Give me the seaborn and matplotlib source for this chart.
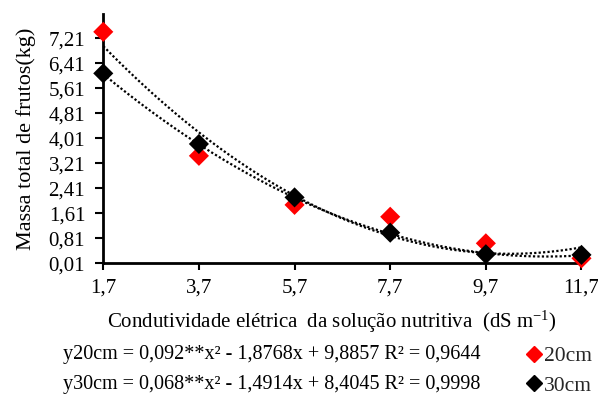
import numpy as np
import pandas as pd
import matplotlib
matplotlib.use("Agg")
import matplotlib.pyplot as plt
from matplotlib.lines import Line2D
import seaborn as sns

# Electrical conductivity of the nutrient solution (dS m-1)
condutividade = [1.7, 3.7, 5.7, 7.7, 9.7, 11.7]
# Total fruit mass (kg) per plant spacing
massa_20cm = [7.42, 3.45, 1.88, 1.50, 0.65, 0.17]
massa_30cm = [6.09, 3.83, 2.12, 0.99, 0.30, 0.28]
# Quadratic regression coefficients (a, b, c) for y = a x^2 + b x + c
coef_20cm = [0.092, -1.8768, 9.8857]
coef_30cm = [0.068, -1.4914, 8.4045]
y_ticks = [0.01, 0.81, 1.61, 2.41, 3.21, 4.01, 4.81, 5.61, 6.41, 7.21]
y_tick_labels = ["0,01", "0,81", "1,61", "2,41", "3,21", "4,01", "4,81", "5,61", "6,41", "7,21"]
x_tick_labels = ["1,7", "3,7", "5,7", "7,7", "9,7", "11,7"]

sns.set_theme(style="white")
plt.rcParams["font.family"] = ["Liberation Serif", "DejaVu Serif"]
plt.rcParams["mathtext.fontset"] = "custom"
plt.rcParams["mathtext.rm"] = "Liberation Serif"
plt.rcParams["mathtext.it"] = "Liberation Serif:italic"

df = pd.DataFrame({
    "x": condutividade * 2,
    "y": massa_20cm + massa_30cm,
    "grupo": ["20cm"] * len(condutividade) + ["30cm"] * len(condutividade),
})

xs = np.linspace(condutividade[0], condutividade[-1], 200)
curvas = pd.DataFrame({
    "x": np.concatenate([xs, xs]),
    "y": np.concatenate([np.polyval(coef_20cm, xs), np.polyval(coef_30cm, xs)]),
    "grupo": ["20cm"] * len(xs) + ["30cm"] * len(xs),
})

fig = plt.figure(figsize=(5.98, 3.96), dpi=100)
ax = fig.add_axes([0.1727, 0.3351, 0.9724 - 0.1727, 0.9646 - 0.3351])

sns.lineplot(data=curvas, x="x", y="y", units="grupo", estimator=None,
             color="black", linestyle=(0, (1, 1)), linewidth=1.6,
             ax=ax, legend=False, zorder=2)
sns.scatterplot(data=df, x="x", y="y", hue="grupo",
                palette={"20cm": "#ff0000", "30cm": "black"},
                marker="D", s=105, edgecolor="none", ax=ax,
                legend=False, zorder=4)
for art in ax.collections + ax.lines:
    art.set_clip_on(False)

ax.set_xlim(condutividade[0], condutividade[-1])
ax.set_ylim(0.01, 7.99)
ax.set_xticks(condutividade)
ax.set_xticklabels(x_tick_labels)
ax.set_yticks(y_ticks)
ax.set_yticklabels(y_tick_labels)
ax.tick_params(axis="both", which="major", labelsize=15, direction="out",
               width=1.5, color="black", labelcolor="black",
               bottom=True, left=True)
ax.tick_params(axis="x", length=5, pad=6)
ax.tick_params(axis="y", length=6, pad=7)
for side in ["top", "right"]:
    ax.spines[side].set_visible(False)
for side in ["left", "bottom"]:
    ax.spines[side].set_color("black")
    ax.spines[side].set_linewidth(2)
    ax.spines[side].set_clip_on(False)

ax.set_xlabel("")
ax.set_ylabel("Massa total de frutos(kg)", fontsize=16, color="black")
ax.yaxis.set_label_coords(-0.141, 0.5)

fig.text(0.555, 1 - 322 / 396,
         r"Condutividade elétrica  da solução nutritiva  (dS m$^{\mathregular{-1}}$)",
         ha="center", va="center", fontsize=15, color="black")
fig.text(0.105, 1 - 355 / 396, "y20cm = 0,092**x² - 1,8768x + 9,8857 R² = 0,9644",
         ha="left", va="center", fontsize=14.5, color="black")
fig.text(0.105, 1 - 384 / 396, "y30cm = 0,068**x² - 1,4914x + 8,4045 R² = 0,9998",
         ha="left", va="center", fontsize=14.5, color="black")

handles = [
    Line2D([], [], marker="D", color="#ff0000", linestyle="none", markersize=8.5),
    Line2D([], [], marker="D", color="black", linestyle="none", markersize=8.5),
]
fig.legend(handles, ["20cm", "30cm"], loc="center left",
           bbox_to_anchor=(0.882, 1 - 371 / 396), frameon=False,
           fontsize=15.5, handlelength=0.6, handletextpad=0.15,
           labelspacing=0.45, borderpad=0, borderaxespad=0)

fig.savefig("out.png", dpi=100, facecolor="white")
